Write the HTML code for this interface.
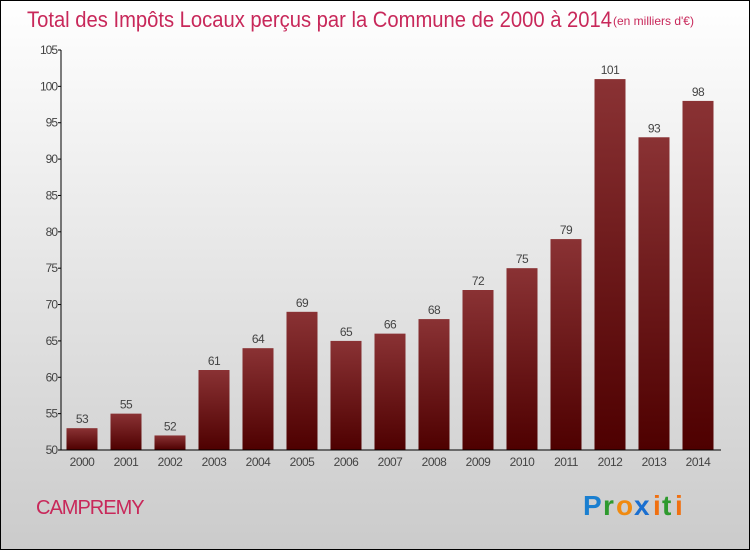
<!DOCTYPE html>
<html><head><meta charset="utf-8"><style>
body{margin:0;}
svg{display:block;font-family:"Liberation Sans",sans-serif;}
</style></head><body>
<svg id="chart" width="750" height="550" xmlns="http://www.w3.org/2000/svg">
<defs>
<linearGradient id="bg" x1="0" y1="0" x2="0" y2="1"><stop offset="0" stop-color="#ffffff"/><stop offset="1" stop-color="#cbcbcb"/></linearGradient>
<linearGradient id="bar" x1="0" y1="0" x2="0" y2="1"><stop offset="0" stop-color="#8a3234"/><stop offset="1" stop-color="#4e0000"/></linearGradient>
</defs>
<rect x="0.5" y="0.5" width="749" height="549" fill="url(#bg)" stroke="#000"/>
<text x="27" y="27" font-size="22" fill="#c8285a" textLength="585" lengthAdjust="spacingAndGlyphs">Total des Impôts Locaux perçus par la Commune de 2000 à 2014</text>
<text x="613" y="25" font-size="12" fill="#c8285a">(en milliers d'€)</text>
<g id="yaxis"></g>
<g id="bars"></g>
<g id="xaxis"></g>
<text x="36" y="514" font-size="20" fill="#c8285a" letter-spacing="-1">CAMPREMY</text>
<g font-size="28" font-weight="bold">
<text x="583" y="515" fill="#1a7fd0">P</text><text x="603" y="515" fill="#2e9a2e">r</text><text x="616" y="515" fill="#f08a10">o</text><text x="634" y="515" fill="#1a6fd0">x</text><text x="653" y="515" fill="#f07010">i</text><text x="662" y="515" fill="#2e9a2e">t</text><text x="675" y="515" fill="#f07010">i</text>
</g>
</svg>
<script>
const years=["2000","2001","2002","2003","2004","2005","2006","2007","2008","2009","2010","2011","2012","2013","2014"];
const values=[53,55,52,61,64,69,65,66,68,72,75,79,101,93,98];
const yTicks=[50,55,60,65,70,75,80,85,90,95,100,105];
const NS="http://www.w3.org/2000/svg";
const x0=61,x1=721,yTop=50,yBot=450,vMin=50,vMax=105;
const y=v=>yBot-(v-vMin)/(vMax-vMin)*(yBot-yTop);
const xc=i=>82+i*44;
function mk(tag,attrs,parent){const e=document.createElementNS(NS,tag);for(const k in attrs)e.setAttribute(k,attrs[k]);parent.appendChild(e);return e;}
const ya=document.getElementById('yaxis'),xa=document.getElementById('xaxis'),bg=document.getElementById('bars');
yTicks.forEach(t=>{
 const l=mk('line',{x1:x0-3,x2:x0,y1:y(t),y2:y(t),stroke:'#000'},ya);
 
 
 const tx=mk('text',{x:x0-4,y:y(t)+4,'font-size':12,fill:'#444','text-anchor':'end','letter-spacing':'-1'},ya);
 tx.textContent=t;
 
 
});
values.forEach((v,i)=>{
 const r=mk('rect',{x:xc(i)-15.5,y:y(v),width:31,height:yBot-y(v),fill:'url(#bar)'},bg);
 
 
 const t=mk('text',{x:xc(i),y:y(v)-5,'font-size':12,fill:'#444','text-anchor':'middle','letter-spacing':'-0.5'},bg);
 t.textContent=v;
 
 
 const xl=mk('text',{x:xc(i),y:466,'font-size':12,fill:'#444','text-anchor':'middle','letter-spacing':'-0.5'},xa);
 xl.textContent=years[i];
 
 
});
const yl=mk('line',{x1:x0,x2:x0,y1:yTop,y2:yBot,stroke:'#000'},ya);


const xl=mk('line',{x1:x0,x2:x1,y1:yBot,y2:yBot,stroke:'#000'},xa);


</script>
</body></html>
